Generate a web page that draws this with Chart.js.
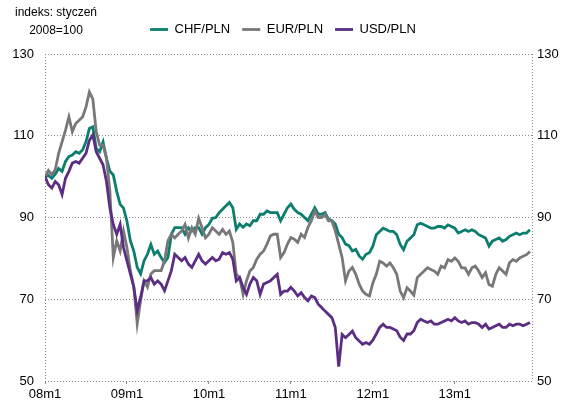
<!DOCTYPE html>
<html>
<head>
<meta charset="utf-8">
<script src="https://cdn.jsdelivr.net/npm/chart.js@4.4.1/dist/chart.umd.min.js"></script>
<style>
    html, body { margin: 0; padding: 0; background: #fff; }
    #wrap { width: 566px; height: 403px; }
</style>
</head>
<body>
<div id="wrap"><canvas id="fxChart" width="566" height="403"></canvas></div>
<script>
// half-month points, Jan 2008 .. Dec 2013 (index 0 = 08m1)
const yearTicks = ['08m1', '09m1', '10m1', '11m1', '12m1', '13m1'];
const yTicks = [50, 70, 90, 110, 130];

const chfPln = [
    100, 100.3, 99.6, 100.6, 102, 101.3, 103.7, 104.9, 105.3, 106.1, 105.7, 106.5,
    108.5, 111.8, 112.2, 106.9, 106.1, 108.5, 104.5, 101.3, 100.4, 96.4, 93.2, 92.3,
    89.1, 84.3, 81.8, 77.8, 76.2, 79.4, 81, 83.4, 81, 81.8, 80.2, 79,
    80.2, 85.9, 87.5, 87.5, 87.5, 85.9, 87.5, 86.7, 87.5, 87.5, 85.9, 87.5,
    88.3, 89.8, 90, 91.2, 92, 92.9, 93.7, 92.4, 87.1, 88.4, 87.6, 88.4,
    88, 89.2, 89.2, 90.8, 90.8, 91.6, 91.2, 91.2, 91.2, 89.2, 90.8, 92.4,
    93.3, 92, 91.2, 90.8, 90, 89.2, 90.8, 92.4, 90.8, 90.8, 91.2, 89.6,
    89.2, 88.4, 85.9, 85.1, 83.5, 83.1, 81.8, 82.2, 80.6, 79.8, 81, 81.4,
    83, 85.8, 86.6, 87.4, 87, 86.6, 86.6, 85.8, 83.4, 82.1, 84.2, 85,
    85.8, 88.2, 88.6, 88.2, 87.8, 87.4, 87.4, 87.8, 87.8, 87.4, 88.2, 87.8,
    87.4, 86.2, 86.6, 87, 86.6, 87, 86.6, 85.8, 85.4, 85, 83, 84.2,
    84.6, 85, 84.2, 84.6, 85.4, 85.8, 86.2, 85.8, 86.2, 86.2, 87
];
const eurPln = [
    100, 101.5, 100.5, 101.7, 105.7, 108.5, 111.4, 114.6, 111, 113, 113.8, 114.6,
    117, 120.7, 119, 111, 107.7, 107.7, 104.5, 96.4, 80.2, 84.3, 81.8, 86.7,
    82.6, 77, 73, 64, 69.7, 74.5, 73, 76.2, 77, 77, 77, 79.4,
    84.3, 85.9, 85, 85.9, 86.7, 88.3, 85, 87.5, 85.9, 89.8, 87.5, 85,
    85.9, 87.5, 86.7, 85.9, 87.1, 85.9, 86.7, 83.9, 76.1, 75.3, 71.2, 74.5,
    76.9, 77.8, 79.8, 81, 81.8, 83.5, 85.5, 85.9, 85.9, 80.2, 81.4, 83.5,
    85.1, 84.7, 83.9, 85.9, 85.1, 87.6, 89.2, 91.6, 90, 90, 90.8, 89.2,
    89.2, 86.7, 83.5, 80.2, 74.5, 76.9, 77.8, 76.1, 73.7, 72, 71.2, 70.8,
    74, 76.1, 79.3, 78.9, 78.1, 78.9, 77.7, 76.1, 72, 70.4, 72.8, 72,
    71, 75.3, 76.1, 76.9, 77.7, 77.3, 76.9, 76.1, 78.1, 77.7, 79.7, 79.3,
    80.1, 79.3, 77.7, 77.7, 76.1, 77.7, 78.1, 76.9, 75.3, 76.5, 73.6, 73.2,
    76.1, 77.7, 76.9, 76.1, 78.9, 79.7, 79.3, 80.1, 80.5, 80.9, 81.7
];
const usdPln = [
    100, 98, 97.2, 98.8, 98, 95.6, 99.6, 101.3, 103.3, 103.7, 103.3, 104.5,
    105.7, 108.9, 110.2, 106.1, 104.5, 102.9, 98.8, 92.3, 88.3, 85.9, 88.3, 82.6,
    79.4, 76.2, 73, 67.2, 70.5, 74.5, 74.5, 75.3, 73.7, 74.5, 73.7, 72.1,
    74.5, 77, 81, 80.2, 79.4, 80.2, 78.6, 77.8, 79.4, 81, 79.4, 78.6,
    79.4, 80.2, 79.4, 79.8, 81.4, 81, 81.4, 79.8, 74.5, 75.3, 72.9, 71.2,
    73.7, 75.3, 74.5, 71.2, 73.7, 74.1, 74.5, 75.3, 76.1, 71.2, 72, 72,
    72.9, 72, 70.8, 71.6, 70.4, 69.6, 70.8, 70.4, 68.8, 68, 67.1, 66.3,
    65.5, 63.1, 53.5, 61.4, 60.6, 61.4, 62.2, 60.6, 59.8, 59, 59.4, 59,
    60, 61.5, 63.1, 63.9, 63.1, 63.1, 62.7, 62.3, 60.7, 59.9, 61.5, 61.5,
    62.3, 64.3, 65.1, 64.7, 64.3, 64.7, 63.9, 63.9, 64.3, 64.7, 65.1, 64.7,
    65.5, 64.7, 64.3, 64.7, 63.9, 64.3, 64.3, 63.9, 63.1, 63.9, 62.7, 63.1,
    63.5, 63.9, 63.1, 63.1, 63.9, 63.5, 63.9, 63.9, 63.5, 63.9, 64.3
];

const FONT = "'Liberation Sans', Arial, sans-serif";
const toPoints = arr => arr.map((v, i) => ({ x: i, y: v }));

// dotted left/right frame lines
const framePlugin = {
    id: 'frame',
    beforeDatasetsDraw(chart) {
        const { ctx, chartArea: a } = chart;
        ctx.save();
        ctx.strokeStyle = '#8c8c8c';
        ctx.lineWidth = 1;
        ctx.setLineDash([1, 2]);
        ctx.beginPath();
        [a.left, a.right].forEach(x => {
            const px = Math.round(x) + 0.5;
            ctx.moveTo(px, a.top);
            ctx.lineTo(px, a.bottom);
        });
        ctx.stroke();
        ctx.restore();
    }
};

// extra room between legend and plot
const legendGapPlugin = {
    id: 'legendGap',
    beforeLayout(chart) {
        const lg = chart.legend;
        if (lg && !lg._gapWrapped) {
            const fit = lg.fit;
            lg.fit = function () {
                fit.call(this);
                this.height += 8;
            };
            lg._gapWrapped = true;
        }
    }
};

// unit note in the top-left corner
const notePlugin = {
    id: 'note',
    afterDraw(chart) {
        const ctx = chart.ctx;
        ctx.save();
        ctx.fillStyle = '#000';
        ctx.font = '12px ' + FONT;
        ctx.textAlign = 'center';
        ctx.textBaseline = 'middle';
        ctx.fillText('indeks: styczeń', 56, 13);
        ctx.fillText('2008=100', 56, 31);
        ctx.restore();
    }
};

const yAxisBase = {
    min: yTicks[0],
    max: yTicks[yTicks.length - 1],
    afterBuildTicks: axis => { axis.ticks = yTicks.map(v => ({ value: v })); },
    ticks: { color: '#000', font: { family: FONT, size: 13 } }
};

new Chart(document.getElementById('fxChart'), {
    type: 'line',
    data: {
        datasets: [
            {
                label: 'CHF/PLN',
                data: toPoints(chfPln),
                borderColor: '#0b7e6e',
                backgroundColor: '#0b7e6e',
                borderWidth: 2.8,
                pointRadius: 0,
                order: 2
            },
            {
                label: 'EUR/PLN',
                data: toPoints(eurPln),
                borderColor: '#78787a',
                backgroundColor: '#78787a',
                borderWidth: 2.8,
                pointRadius: 0,
                order: 1
            },
            {
                label: 'USD/PLN',
                data: toPoints(usdPln),
                borderColor: '#5b2e84',
                backgroundColor: '#5b2e84',
                borderWidth: 2.8,
                pointRadius: 0,
                order: 0
            }
        ]
    },
    options: {
        responsive: false,
        animation: false,
        layout: { padding: { top: 11 } },
        plugins: {
            legend: {
                position: 'top',
                labels: {
                    usePointStyle: true,
                    pointStyle: 'line',
                    pointStyleWidth: 18,
                    color: '#000',
                    padding: 12,
                    font: { family: FONT, size: 13 },
                    sort: (a, b) => a.datasetIndex - b.datasetIndex
                }
            },
            tooltip: { enabled: false }
        },
        scales: {
            x: {
                type: 'linear',
                min: 0,
                max: 142.6,
                afterBuildTicks: axis => {
                    axis.ticks = yearTicks.map((t, i) => ({ value: i * 24 }));
                },
                afterFit: axis => { axis.height = 22; },
                grid: { drawOnChartArea: false, drawTicks: true, tickLength: 3, color: '#8c8c8c' },
                border: { display: false },
                ticks: {
                    color: '#000',
                    padding: 3,
                    maxRotation: 0,
                    autoSkip: false,
                    font: { family: FONT, size: 13 },
                    callback: v => yearTicks[v / 24]
                }
            },
            y: {
                ...yAxisBase,
                position: 'left',
                afterFit: axis => { axis.width = 45; },
                grid: { color: '#8c8c8c', lineWidth: 1, drawTicks: false },
                border: { display: false, dash: [1, 2] },
                ticks: { ...yAxisBase.ticks, padding: 11 }
            },
            y2: {
                ...yAxisBase,
                position: 'right',
                afterFit: axis => { axis.width = 34; },
                grid: { display: false, drawTicks: false },
                border: { display: false },
                ticks: { ...yAxisBase.ticks, padding: 5 }
            }
        }
    },
    plugins: [framePlugin, legendGapPlugin, notePlugin]
});
</script>
</body>
</html>
